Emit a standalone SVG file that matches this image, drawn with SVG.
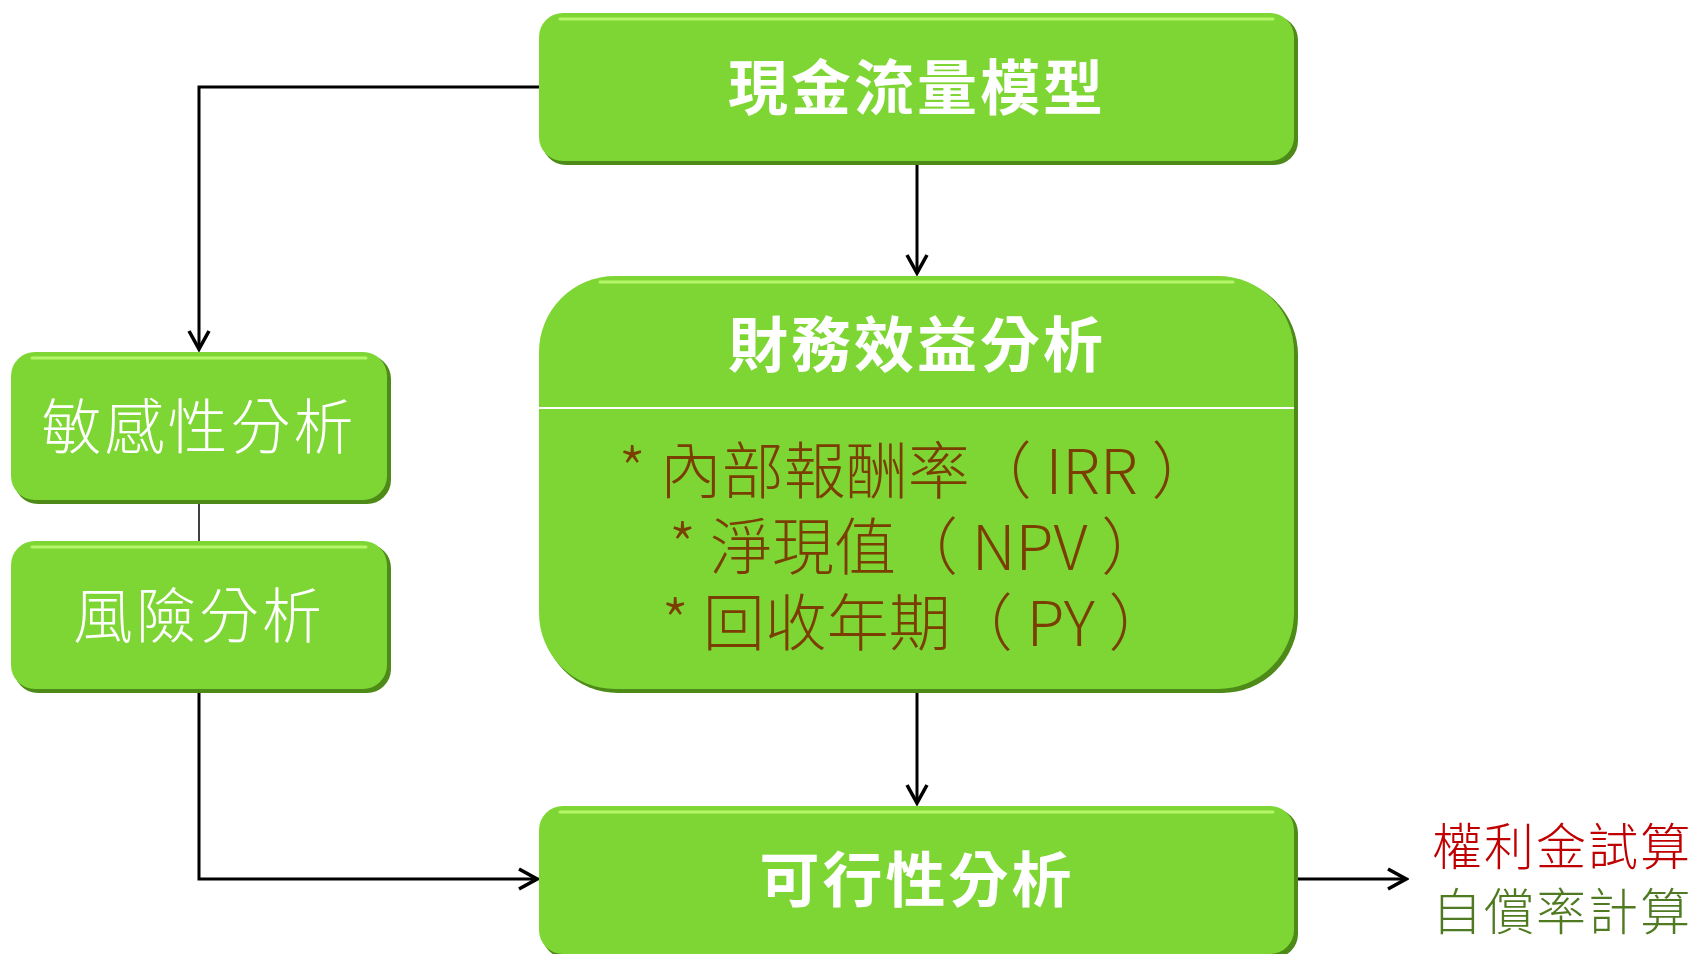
<svg xmlns="http://www.w3.org/2000/svg" width="1698" height="954" viewBox="0 0 1698 954">
<defs>
<style>
.box{fill:#7ed634;}
.shadow{fill:#4d8a17;}
.hl{fill:none;stroke:#b4f56a;stroke-width:3;stroke-linecap:round;}
.t{font-family:"Noto Sans CJK TC","Noto Sans CJK SC",sans-serif;fill:#ffffff;text-anchor:middle;}
.b{font-weight:bold;}
.l{font-weight:300;}
.br{font-family:"Noto Sans CJK TC","Noto Sans CJK SC",sans-serif;fill:#7a3f00;text-anchor:middle;font-size:62px;font-weight:300;}
.conn{fill:none;stroke:#000;stroke-width:3;}
.side{font-family:"Noto Sans CJK TC","Noto Sans CJK SC",sans-serif;font-size:50px;font-weight:300;letter-spacing:2px;}
</style>
<marker id="arr" viewBox="0 0 24 24" refX="21" refY="12" markerWidth="24" markerHeight="24" markerUnits="userSpaceOnUse" orient="auto">
<path d="M3,2 L21,12 L3,22" fill="none" stroke="#000" stroke-width="3.6" stroke-linejoin="miter"/>
</marker>
<linearGradient id="g" x1="0" y1="0" x2="0" y2="1">
<stop offset="0" stop-color="#8ee445"/>
<stop offset="0.08" stop-color="#7ed634"/>
<stop offset="0.92" stop-color="#7ed634"/>
<stop offset="1" stop-color="#6cbf26"/>
</linearGradient>
</defs>

<g id="connectors">
<polyline class="conn" points="539,87 199,87 199,349" marker-end="url(#arr)"/>
<line class="conn" x1="917" y1="162" x2="917" y2="273" marker-end="url(#arr)"/>
<line class="conn" x1="199" y1="501" x2="199" y2="541" style="stroke-width:1.5"/>
<polyline class="conn" points="199,690 199,879 537,879" marker-end="url(#arr)"/>
<line class="conn" x1="917" y1="690" x2="917" y2="803" marker-end="url(#arr)"/>
<line class="conn" x1="1295" y1="879" x2="1406" y2="879" marker-end="url(#arr)"/>
</g>

<g id="cashflow">
<rect class="shadow" x="542" y="16" width="756" height="149" rx="24"/>
<rect class="box" x="539" y="13" width="755" height="148" rx="24" fill="url(#g)"/>
<line class="hl" x1="560" y1="19" x2="1273" y2="19"/>
<text class="t b" x="917" y="110" font-size="60" letter-spacing="3">現金流量模型</text>
</g>

<g id="sensitivity">
<rect class="shadow" x="14" y="355" width="377" height="149" rx="24"/>
<rect class="box" x="11" y="352" width="376" height="148" rx="24" fill="url(#g)"/>
<line class="hl" x1="32" y1="358" x2="366" y2="358"/>
<text class="t l" x="199" y="449" font-size="60" letter-spacing="3">敏感性分析</text>
</g>

<g id="risk">
<rect class="shadow" x="14" y="544" width="377" height="149" rx="24"/>
<rect class="box" x="11" y="541" width="376" height="148" rx="24" fill="url(#g)"/>
<line class="hl" x1="32" y1="547" x2="366" y2="547"/>
<text class="t l" x="199" y="638" font-size="60" letter-spacing="3">風險分析</text>
</g>

<g id="financial">
<rect class="shadow" x="542" y="279" width="756" height="414" rx="76"/>
<rect class="box" x="539" y="276" width="755" height="413" rx="76" fill="url(#g)"/>
<line class="hl" x1="600" y1="282" x2="1233" y2="282"/>
<text class="t b" x="917" y="367" font-size="60" letter-spacing="3">財務效益分析</text>
<line x1="539" y1="408" x2="1294" y2="408" stroke="#ffffff" stroke-width="2"/>
<text class="br" x="916" y="494" xml:space="preserve">* 內部報酬率（ IRR ）</text>
<text class="br" x="916" y="570" xml:space="preserve">* 淨現值（ NPV ）</text>
<text class="br" x="916" y="646" xml:space="preserve">* 回收年期（ PY ）</text>
</g>

<g id="feasibility">
<rect class="shadow" x="542" y="809" width="756" height="149" rx="24"/>
<rect class="box" x="539" y="806" width="755" height="148" rx="24" fill="url(#g)"/>
<line class="hl" x1="560" y1="812" x2="1273" y2="812"/>
<text class="t b" x="917" y="902" font-size="60" letter-spacing="3">可行性分析</text>
</g>

<g id="outputs">
<text class="side" x="1432" y="865" fill="#c00000">權利金試算</text>
<text class="side" x="1432" y="930" fill="#4f7a21">自償率計算</text>
</g>
</svg>
